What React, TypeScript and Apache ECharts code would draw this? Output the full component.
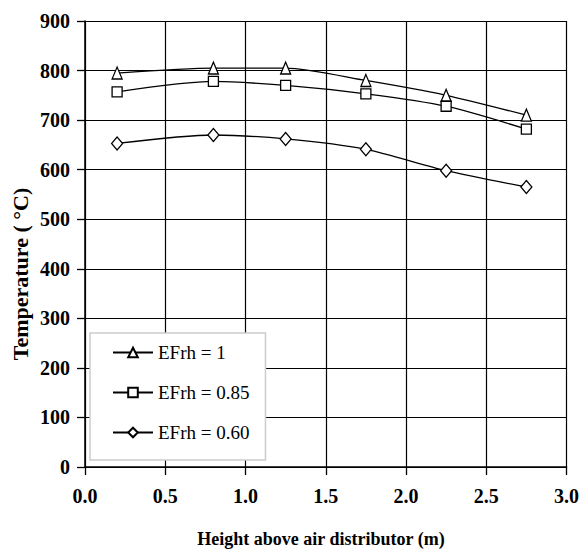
import React, { useEffect, useRef } from "react";
import * as echarts from "echarts";

const heights = [0.2, 0.8, 1.25, 1.75, 2.25, 2.75];
const efrh100 = [795, 805, 805, 780, 750, 710];
const efrh085 = [757, 778, 770, 753, 728, 682];
const efrh060 = [653, 670, 662, 641, 598, 565];
const seriesNames = ["EFrh = 1", "EFrh = 0.85", "EFrh = 0.60"];
const xTitle = "Height above air distributor (m)";
const yTitle = "Temperature ( °C)";

const FONT = "'Liberation Serif', 'Times New Roman', serif";

export default function App() {
  const ref = useRef<HTMLDivElement>(null);
  useEffect(() => {
    if (!ref.current) return;
    const chart = echarts.init(ref.current, undefined, { renderer: "svg" });
    const mk = (name: string, vals: number[], symbol: string, size: number | number[]) => ({
      name,
      type: "line",
      data: heights.map((h, i) => [h, vals[i]]),
      symbol,
      symbolSize: size,
      smooth: 0.25,
      lineStyle: { color: "#000", width: 1.3 },
      itemStyle: { color: "#fff", borderColor: "#000", borderWidth: 1.3 },
      emphasis: { disabled: true },
    });
    chart.setOption({
      animation: false,
      backgroundColor: "#fff",
      grid: { left: 85, right: 15, top: 21, bottom: 85, containLabel: false },
      xAxis: {
        type: "value",
        min: 0,
        max: 3,
        interval: 0.5,
        axisLine: { show: true, lineStyle: { color: "#000", width: 1.5 } },
        axisTick: { show: true, length: 8, lineStyle: { color: "#000", width: 1.3 } },
        axisLabel: {
          margin: 19,
          formatter: (v: number) => v.toFixed(1),
          fontFamily: FONT,
          fontWeight: "bold",
          fontSize: 20,
          color: "#000",
        },
        splitLine: { show: true, lineStyle: { color: "#000", width: 1.2 } },
      },
      yAxis: {
        type: "value",
        min: 0,
        max: 900,
        interval: 100,
        axisLine: { show: true, lineStyle: { color: "#000", width: 1.5 } },
        axisTick: { show: true, length: 8, lineStyle: { color: "#000", width: 1.3 } },
        axisLabel: {
          margin: 15,
          fontFamily: FONT,
          fontWeight: "bold",
          fontSize: 20,
          color: "#000",
        },
        splitLine: { show: true, lineStyle: { color: "#000", width: 1.2 } },
      },
      legend: {
        show: true,
        orient: "vertical",
        left: 90,
        top: 333,
        backgroundColor: "#fff",
        borderColor: "#ccc",
        borderWidth: 1.5,
        borderRadius: 0,
        padding: [10, 16, 18, 22],
        itemWidth: 40,
        itemHeight: 12,
        itemGap: 21,
        textStyle: { fontFamily: FONT, fontSize: 19, color: "#000" },
        data: seriesNames,
      },
      graphic: [
        {
          type: "text",
          x: 321,
          y: 539,
          style: {
            text: xTitle,
            fontFamily: FONT,
            fontWeight: "bold",
            fontSize: 18,
            fill: "#000",
            align: "center",
            verticalAlign: "middle",
          },
        },
        {
          type: "text",
          x: 20,
          y: 274,
          rotation: Math.PI / 2,
          style: {
            text: yTitle,
            fontFamily: FONT,
            fontWeight: "bold",
            fontSize: 22,
            fill: "#000",
            align: "center",
            verticalAlign: "middle",
          },
        },
      ],
      series: [
        mk(seriesNames[0], efrh100, "triangle", [10, 12]),
        mk(seriesNames[1], efrh085, "rect", 10),
        mk(seriesNames[2], efrh060, "diamond", [11, 13]),
      ],
    });
    return () => chart.dispose();
  }, []);
  return (
    <div
      ref={ref}
      style={{ position: "absolute", left: 0, top: 0, width: 582, height: 552 }}
    />
  );
}
